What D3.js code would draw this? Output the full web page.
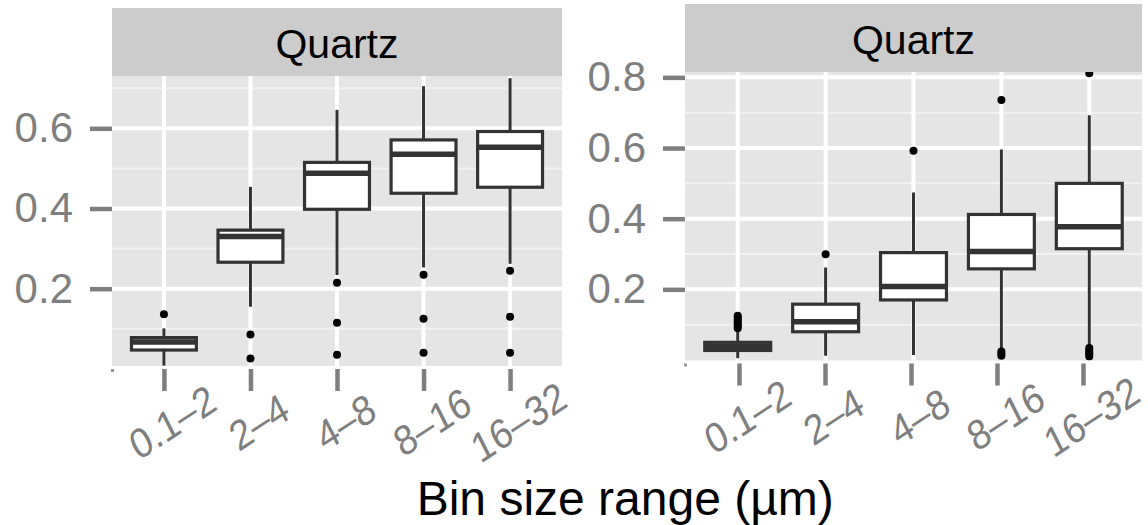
<!DOCTYPE html>
<html>
<head>
<meta charset="utf-8">
<script src="https://cdn.jsdelivr.net/npm/d3@7"></script>
<style>
  html, body { margin: 0; padding: 0; background: #ffffff; }
  svg { display: block; font-family: "Liberation Sans", Arial, Helvetica, sans-serif; }
</style>
</head>
<body>
<svg id="chart" width="1148" height="525"></svg>
<script>
// Bin size classes shared by both panels
const categories = ["0.1\u20132", "2\u20134", "4\u20138", "8\u201316", "16\u201332"];

// Left panel: box statistics per bin
const leftLower  = [0.008, 0.155, 0.234, 0.253, 0.262];
const leftQ1     = [0.047, 0.266, 0.398, 0.438, 0.453];
const leftMedian = [0.067, 0.330, 0.488, 0.535, 0.553];
const leftQ3     = [0.078, 0.346, 0.515, 0.571, 0.592];
const leftUpper  = [0.101, 0.454, 0.646, 0.705, 0.725];
const leftOutliers = [
  [0.136],
  [0.086, 0.026],
  [0.215, 0.115, 0.035],
  [0.235, 0.125, 0.040],
  [0.245, 0.130, 0.040]
];
const leftMajorTicks = [0.2, 0.4, 0.6];
const leftMinorTicks = [0.1, 0.3, 0.5, 0.7];
const leftDomain = [0.0072, 0.7304];

// Right panel: box statistics per bin
const rightLower  = [0.005, 0.012, 0.014, 0.030, 0.040];
const rightQ1     = [0.027, 0.080, 0.170, 0.258, 0.315];
const rightMedian = [0.038, 0.108, 0.208, 0.307, 0.377];
const rightQ3     = [0.050, 0.158, 0.304, 0.412, 0.500];
const rightUpper  = [0.085, 0.262, 0.474, 0.596, 0.693];
const rightOutliers = [
  [0.090, 0.095, 0.100, 0.105, 0.110, 0.115, 0.120, 0.125],
  [0.299],
  [0.592],
  [0.736, 0.024, 0.018, 0.012],
  [0.812, 0.034, 0.028, 0.022, 0.016, 0.010]
];
const rightMajorTicks = [0.2, 0.4, 0.6, 0.8];
const rightMinorTicks = [0.1, 0.3, 0.5, 0.7];
const rightDomain = [-0.0014, 0.8152];

const stripLabel = "Quartz";
const xTitle = "Bin size range (\u00b5m)";

const svg = d3.select("#chart");

function buildBoxes(lower, q1, med, q3, upper, outliers) {
  return categories.map((c, i) => ({
    cat: c, lower: lower[i], q1: q1[i], median: med[i], q3: q3[i], upper: upper[i], outliers: outliers[i]
  }));
}

function drawPanel(opt) {
  const { left, right, top, bottom, stripTop, boxes, domain, major, minor, id, axisRange } = opt;
  const g = svg.append("g");

  const x = d3.scalePoint().domain(categories).range([left, right]).padding(0.6);
  // the bottom axis of the right-hand panel sits on a slightly narrower span
  const xAxisScale = d3.scalePoint().domain(categories).range(axisRange || [left, right]).padding(0.6);
  const step = x.step();
  const y = d3.scaleLinear().domain(domain).range([bottom, top]);

  // panel background
  g.append("rect").attr("x", left).attr("y", top)
    .attr("width", right - left).attr("height", bottom - top).attr("fill", "#E5E5E5");

  // minor grid
  g.selectAll(".minor").data(minor).join("line")
    .attr("x1", left).attr("x2", right)
    .attr("y1", d => y(d)).attr("y2", d => y(d))
    .attr("stroke", "#F2F2F2").attr("stroke-width", 2);

  // major grid
  g.selectAll(".major").data(major).join("line")
    .attr("x1", left).attr("x2", right)
    .attr("y1", d => y(d)).attr("y2", d => y(d))
    .attr("stroke", "#FFFFFF").attr("stroke-width", 4);

  g.selectAll(".vgrid").data(categories).join("line")
    .attr("x1", d => x(d)).attr("x2", d => x(d))
    .attr("y1", top).attr("y2", bottom)
    .attr("stroke", "#FFFFFF").attr("stroke-width", 4);

  // clip marks to panel
  svg.append("defs").append("clipPath").attr("id", id)
    .append("rect").attr("x", left).attr("y", top)
    .attr("width", right - left).attr("height", bottom - top);

  const marks = g.append("g").attr("clip-path", `url(#${id})`);
  const bw = step * 0.75;
  const stroke = "#333333";

  const bx = marks.selectAll(".box").data(boxes).join("g");

  bx.append("line")
    .attr("x1", d => x(d.cat)).attr("x2", d => x(d.cat))
    .attr("y1", d => y(d.upper)).attr("y2", d => y(d.q3))
    .attr("stroke", stroke).attr("stroke-width", 3);
  bx.append("line")
    .attr("x1", d => x(d.cat)).attr("x2", d => x(d.cat))
    .attr("y1", d => y(d.q1)).attr("y2", d => y(d.lower))
    .attr("stroke", stroke).attr("stroke-width", 3);
  bx.append("rect")
    .attr("x", d => x(d.cat) - bw / 2).attr("width", bw)
    .attr("y", d => y(d.q3)).attr("height", d => y(d.q1) - y(d.q3))
    .attr("fill", "#FFFFFF").attr("stroke", stroke).attr("stroke-width", 3.2);
  bx.append("line")
    .attr("x1", d => x(d.cat) - bw / 2).attr("x2", d => x(d.cat) + bw / 2)
    .attr("y1", d => y(d.median)).attr("y2", d => y(d.median))
    .attr("stroke", stroke).attr("stroke-width", 5.5);

  bx.selectAll("circle").data(d => d.outliers.map(v => ({ cat: d.cat, v })))
    .join("circle")
    .attr("cx", d => x(d.cat)).attr("cy", d => y(d.v)).attr("r", 4)
    .attr("fill", "#000000");

  // strip
  g.append("rect").attr("x", left).attr("y", stripTop)
    .attr("width", right - left).attr("height", top - stripTop).attr("fill", "#CCCCCC");
  g.append("text").attr("x", (left + right) / 2).attr("y", (stripTop + top) / 2 + 16)
    .attr("text-anchor", "middle").attr("font-size", 41).attr("fill", "#000000")
    .text(stripLabel);

  // y axis
  const yAxis = g.append("g").attr("transform", `translate(${left},0)`)
    .call(d3.axisLeft(y).tickValues(major).tickSize(22).tickPadding(17).tickFormat(d3.format(".1f")));
  yAxis.select(".domain").remove();
  yAxis.selectAll(".tick line").attr("stroke", "#7F7F7F").attr("stroke-width", 4.5);
  yAxis.selectAll(".tick text").attr("fill", "#7F7F7F").attr("font-size", 42)
    .attr("font-family", "'Liberation Sans', Arial, sans-serif");

  // x axis with slanted, slightly condensed labels
  const xAxis = g.append("g").attr("transform", `translate(0,${bottom + 3})`)
    .call(d3.axisBottom(xAxisScale).tickSize(22));
  xAxis.select(".domain").remove();
  xAxis.selectAll(".tick line").attr("stroke", "#7F7F7F").attr("stroke-width", 4.5);
  xAxis.selectAll(".tick text")
    .attr("fill", "#7F7F7F").attr("font-size", 42)
    .attr("font-family", "'Liberation Sans', Arial, sans-serif")
    .attr("y", 0).attr("dy", "0.35em")
    .attr("text-anchor", "middle")
    .attr("transform", "translate(8,53) scale(0.88,1) rotate(-30)");

  // small corner mark where the axes meet
  g.append("rect").attr("x", left - 1).attr("y", bottom + 3).attr("width", 3).attr("height", 3)
    .attr("fill", "#9A9A9A");
}

drawPanel({
  id: "clipLeft", left: 112, right: 562, top: 76, bottom: 366, stripTop: 8,
  boxes: buildBoxes(leftLower, leftQ1, leftMedian, leftQ3, leftUpper, leftOutliers),
  domain: leftDomain, major: leftMajorTicks, minor: leftMinorTicks
});

drawPanel({
  id: "clipRight", left: 685, right: 1142, top: 72, bottom: 360.5, stripTop: 4,
  axisRange: [687.4, 1134.6],
  boxes: buildBoxes(rightLower, rightQ1, rightMedian, rightQ3, rightUpper, rightOutliers),
  domain: rightDomain, major: rightMajorTicks, minor: rightMinorTicks
});

// shared x-axis title
svg.append("text")
  .attr("x", (337 + 913.5) / 2).attr("y", 515)
  .attr("text-anchor", "middle").attr("font-size", 48).attr("fill", "#000000")
  .text(xTitle);
</script>
</body>
</html>
